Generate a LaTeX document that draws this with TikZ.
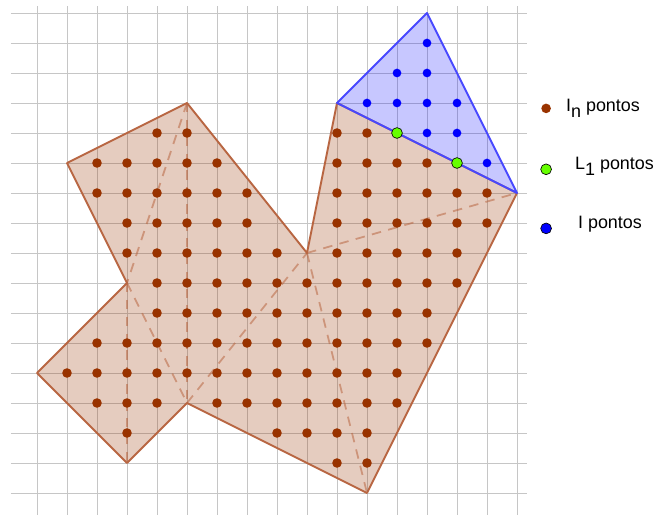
\documentclass[tikz,border=0pt]{standalone}
\usepackage{fontspec}
\setmainfont{Liberation Sans}
\definecolor{marrom}{RGB}{153,51,0}
\definecolor{marromlinha}{RGB}{184,102,66}
\definecolor{azullinha}{RGB}{72,72,255}
\definecolor{verdeponto}{RGB}{102,255,0}

\begin{document}
\begin{tikzpicture}[
	grade/.style={gray!45, line width=0.9pt},
	regiao/.style={fill=marrom, fill opacity=0.25, draw=marromlinha, line width=1.8pt, line join=round},
	triangulo/.style={fill=blue, fill opacity=0.22, draw=azullinha, line width=1.8pt, line join=round},
	tracejado/.style={marromlinha, draw opacity=0.55, line width=1.7pt, dash pattern=on 9pt off 7pt},
	pontoIn/.style={fill=marrom},
	pontoI/.style={fill=blue},
	pontoL/.style={fill=verdeponto, draw=black, line width=0.6pt},
	legenda/.style={anchor=base west, inner sep=0pt, font=\fontsize{17}{20}\selectfont}
	]
	\useasboundingbox (-1.2333,-0.7333) rectangle (20.6333,16.4333);
	\foreach \y in {0,...,16}
	\draw[grade] (-0.8667,\y) -- (16.3333,\y);
	\foreach \x in {0,...,16}
	\draw[grade] (\x,-0.7333) -- (\x,16.2333);
	\filldraw[regiao] (10,13) -- (9,8) -- (5,13) -- (1,11) -- (3,7) -- (0,4) -- (3,1) -- (5,3) -- (11,0) -- (16,10) -- cycle;
	\draw[tracejado] (5,13) -- (5,3);
	\draw[tracejado] (5,13) -- (3,7);
	\draw[tracejado] (3,7) -- (3,1);
	\draw[tracejado] (3,7) -- (5,3);
	\draw[tracejado] (5,3) -- (9,8);
	\draw[tracejado] (9,8) -- (11,0);
	\draw[tracejado] (9,8) -- (16,10);
	\filldraw[triangulo] (10,13) -- (13,16) -- (16,10) -- cycle;
	\foreach \y/\a/\b in {12/4/5, 12/10/11, 11/2/6, 11/10/13, 10/2/7, 10/10/15, 9/3/7, 9/10/15, 8/3/8, 8/10/14, 7/4/14, 6/4/13, 5/2/13, 4/1/12, 3/2/4, 3/6/12, 2/3/3, 2/8/11, 1/10/11}
	\foreach \x in {\a,...,\b}
	\fill[pontoIn] (\x,\y) circle (0.16);
	\foreach \x/\y in {13/15, 12/14, 13/14, 11/13, 12/13, 13/13, 14/13, 13/12, 14/12, 15/11}
	\fill[pontoI] (\x,\y) circle (0.145);
	\foreach \x/\y in {12/12, 14/11}
	\filldraw[pontoL] (\x,\y) circle (0.18);
	\fill[pontoIn] (16.97,12.82) circle (0.16);
	\filldraw[pontoL] (16.97,10.79) circle (0.18);
	\filldraw[pontoI, draw=black, line width=0.6pt] (16.97,8.82) circle (0.18);
	\node[legenda] (legIn) at (17.63,12.73) {I\raisebox{-0.33em}{n} pontos};
	\node[legenda] (legL) at (17.93,10.77) {L\raisebox{-0.33em}{1} pontos};
	\node[legenda] (legI) at (18.03,8.83) {I pontos};
\end{tikzpicture}
\end{document}
